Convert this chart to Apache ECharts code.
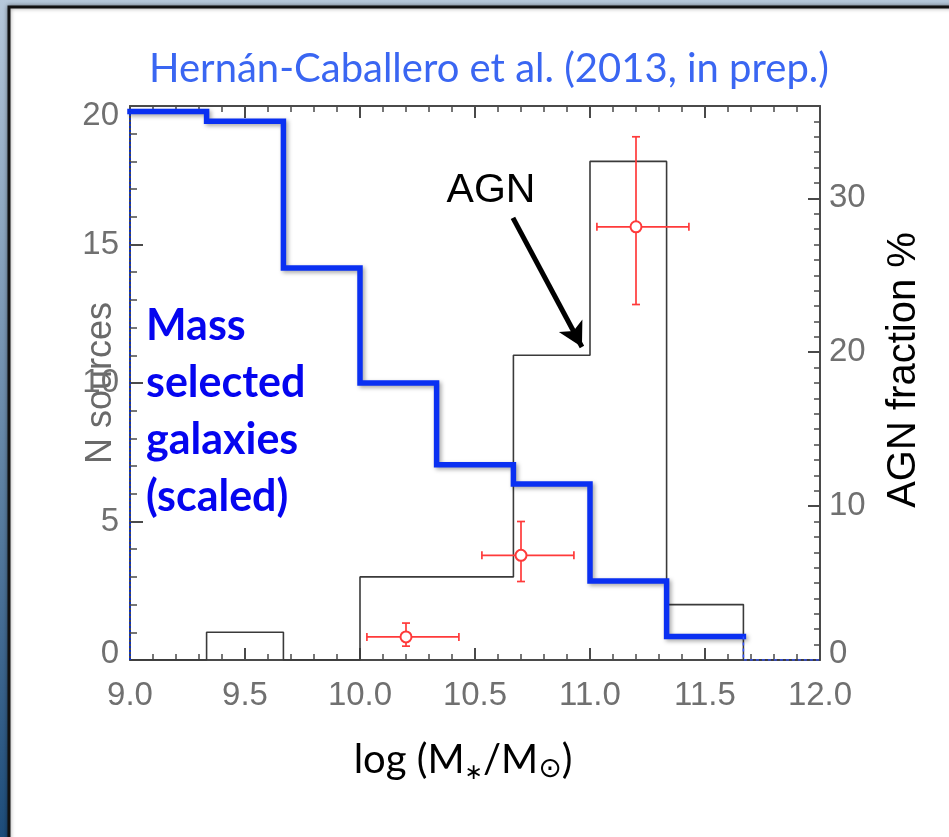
<!DOCTYPE html>
<html>
<head>
<meta charset="utf-8">
<script src="https://cdn.jsdelivr.net/npm/echarts@6/dist/echarts.min.js"></script>
<style>
html,body{margin:0;padding:0;background:#fff;}
#chart{width:949px;height:837px;}
</style>
</head>
<body>
<div id="chart"></div>
<script>
// ---- data ----
var binEdges = [9.0, 9.333, 9.667, 10.0, 10.333, 10.667, 11.0, 11.333, 11.667, 12.0];
var agnCounts = [0, 1, 0, 3, 3, 11, 18, 2, 0];
var massScaled = [19.8, 19.45, 14.15, 10.0, 7.05, 6.35, 2.85, 0.85, 0];

var fracX   = [10.2, 10.7, 11.2];
var fracY   = [1.5, 6.8, 28.15];
var fracXLo = [10.03, 10.53, 11.03];
var fracXHi = [10.43, 10.93, 11.43];
var fracYLo = [0.9, 5.1, 23.1];
var fracYHi = [2.4, 9.0, 34.0];

var xTicks = [9.0, 9.5, 10.0, 10.5, 11.0, 11.5, 12.0];
var leftTicks = [0, 5, 10, 15, 20];
var rightTicks = [0, 10, 20, 30];

// ---- build step outlines from bins ----
function stepPath(edges, vals, from, to) {
  var pts = [];
  for (var i = from; i < to; i++) {
    pts.push([edges[i], vals[i]]);
    pts.push([edges[i + 1], vals[i]]);
  }
  return pts;
}
var agnPath = [[binEdges[0], 0]].concat(stepPath(binEdges, agnCounts, 0, agnCounts.length));
agnPath.push([binEdges[binEdges.length - 1], 0]);
var massPath = stepPath(binEdges, massScaled, 0, 8);
var massLeft = [[binEdges[0], 0], [binEdges[0], massScaled[0]]];
var massRight = [[binEdges[8], massScaled[7]], [binEdges[8], massScaled[8]], [binEdges[9], massScaled[8]]];

var errData = fracX.map(function (x, i) {
  return [x, fracY[i], fracXLo[i], fracXHi[i], fracYLo[i], fracYHi[i]];
});
var ptData = fracX.map(function (x, i) { return [x, fracY[i]]; });

var chart = echarts.init(document.getElementById('chart'));
var tickFont = 'Liberation Sans, Arial, sans-serif';
var labelGray = '#707070';
var axisCol = '#4a4a4a';
var errCol = '#ff3a3a';

var option = {
  animation: false,
  backgroundColor: {
    type: 'linear', x: 0, y: 0, x2: 0, y2: 1,
    colorStops: [{offset: 0, color: '#b6c8da'}, {offset: 1, color: '#1d4c7a'}]
  },
  title: {
    text: 'Hernán-Caballero et al. (2013, in prep.)',
    left: 484, top: 44, textAlign: 'center',
    textStyle: {color: '#3a66f2', fontFamily: 'Lato, sans-serif', fontWeight: 'normal', fontSize: 40}
  },
  graphic: [
    {type: 'rect', z: -10, shape: {x: 9, y: 7, width: 980, height: 880},
     style: {fill: '#ffffff', stroke: '#111111', lineWidth: 3, shadowBlur: 4, shadowColor: 'rgba(0,0,0,0.4)'}},
    {type: 'text', left: 146, top: 298, z: 10,
     style: {text: 'Mass\nselected\ngalaxies\n(scaled)', fill: '#0505ef',
             font: 'bold 43px Lato, sans-serif', lineHeight: 57}},
    {type: 'text', x: 491, y: 191, z: 10,
     style: {text: 'AGN', fill: '#000', font: '41px "Liberation Sans", Arial, sans-serif',
             textAlign: 'center', textVerticalAlign: 'middle'}}
  ],
  grid: {left: 130, right: 129, top: 106, bottom: 177, containLabel: false},
  xAxis: [
    {
      type: 'value', min: 9, max: 12, interval: 0.5, position: 'bottom',
      axisLine: {show: true, onZero: false, lineStyle: {color: axisCol, width: 2}},
      axisTick: {show: true, inside: true, length: 12, lineStyle: {color: axisCol, width: 2}},
      minorTick: {show: true, splitNumber: 5, length: 6, lineStyle: {color: axisCol, width: 1.5}},
      splitLine: {show: false},
      axisLabel: {color: labelGray, fontSize: 33, fontFamily: tickFont, margin: 19,
                  formatter: function (v) { return xTicks.indexOf(v) >= 0 ? v.toFixed(1) : ''; }},
      name: '{a|log (M}{s|∗}{a|/M}{o|⊙}{a|)}',
      nameLocation: 'middle', nameGap: 76,
      nameTextStyle: {
        padding: [0, 24, 0, 0],
        rich: {
          a: {fontFamily: 'Lato, sans-serif', fontSize: 40, color: '#000', lineHeight: 48},
          s: {fontFamily: 'DejaVu Sans, sans-serif', fontSize: 22, color: '#000', verticalAlign: 'bottom', lineHeight: 32},
          o: {fontFamily: 'DejaVu Sans, sans-serif', fontSize: 28, color: '#000', verticalAlign: 'bottom', lineHeight: 32}
        }
      }
    },
    {
      type: 'value', min: 9, max: 12, interval: 0.5, position: 'top',
      axisLine: {show: true, onZero: false, lineStyle: {color: axisCol, width: 2}},
      axisTick: {show: true, inside: true, length: 12, lineStyle: {color: axisCol, width: 2}},
      minorTick: {show: true, splitNumber: 5, length: 6, lineStyle: {color: axisCol, width: 1.5}},
      splitLine: {show: false},
      axisLabel: {show: false}
    }
  ],
  yAxis: [
    {
      type: 'value', min: 0, max: 20, interval: 5, position: 'left',
      axisLine: {show: true, onZero: false, lineStyle: {color: axisCol, width: 2}},
      axisTick: {show: true, inside: true, length: 13, lineStyle: {color: axisCol, width: 2}},
      minorTick: {show: true, splitNumber: 5, length: 7, lineStyle: {color: axisCol, width: 1.5}},
      splitLine: {show: false},
      axisLabel: {color: labelGray, fontSize: 33, fontFamily: tickFont, margin: 11,
                  formatter: function (v) {
                    if (leftTicks.indexOf(v) < 0) return '';
                    if (v === 20) return '{top|20}';
                    if (v === 0) return '{bot|0}';
                    return String(v);
                  },
                  rich: {
                    top: {color: labelGray, fontSize: 33, fontFamily: tickFont, padding: [20, 0, 0, 0]},
                    bot: {color: labelGray, fontSize: 33, fontFamily: tickFont, padding: [0, 0, 12, 0]}
                  }},
      name: 'N sources', nameLocation: 'middle', nameRotate: 90, nameGap: 11,
      nameMoveOverlap: false,
      nameTextStyle: {color: '#6a6a6a', fontSize: 36, fontFamily: tickFont}
    },
    {
      type: 'value', min: 0, max: 36, interval: 10, position: 'right',
      axisLine: {show: true, onZero: false, lineStyle: {color: axisCol, width: 2}},
      axisTick: {show: true, inside: true, length: 12, lineStyle: {color: axisCol, width: 2}},
      splitLine: {show: false},
      axisLabel: {color: labelGray, fontSize: 33, fontFamily: tickFont, margin: 9, showMaxLabel: false,
                  formatter: function (v) {
                    if (rightTicks.indexOf(v) < 0) return '';
                    if (v === 0) return '{bot|0}';
                    return String(v);
                  },
                  rich: {
                    bot: {color: labelGray, fontSize: 33, fontFamily: tickFont, padding: [0, 0, 12, 0]}
                  }},
      name: 'AGN fraction %', nameLocation: 'middle', nameRotate: 90, nameGap: 64,
      nameMoveOverlap: false,
      nameTextStyle: {color: '#000', fontSize: 40, fontFamily: tickFont, padding: [0, 0, 0, 26]}
    },
    {
      type: 'value', min: 0, max: 36, interval: 1, position: 'right',
      axisLine: {show: false},
      axisTick: {show: true, inside: true, length: 6, lineStyle: {color: axisCol, width: 1.5}},
      splitLine: {show: false},
      axisLabel: {show: false}
    }
  ],
  series: [
    {
      name: 'AGN', type: 'line', xAxisIndex: 0, yAxisIndex: 0, data: agnPath,
      showSymbol: false, symbol: 'none', z: 3,
      lineStyle: {color: '#3a3a3a', width: 1.6},
      markLine: {
        silent: true, animation: false,
        symbol: ['none', 'arrow'], symbolSize: [20, 24],
        label: {show: false},
        lineStyle: {color: '#000', width: 5, type: 'solid'},
        data: [[{coord: [10.665, 15.96]}, {coord: [10.965, 11.3]}]]
      }
    },
    {
      name: 'Mass selected', type: 'line', xAxisIndex: 0, yAxisIndex: 0, data: massPath,
      showSymbol: false, symbol: 'none', z: 4,
      lineStyle: {color: '#0a30f2', width: 5.5, cap: 'square', join: 'miter',
                  shadowColor: 'rgba(0,0,0,0.35)', shadowBlur: 4, shadowOffsetX: 2, shadowOffsetY: 2}
    },
    {
      name: 'Mass left', type: 'line', xAxisIndex: 0, yAxisIndex: 0, data: massLeft,
      showSymbol: false, symbol: 'none', z: 4,
      lineStyle: {color: '#1030c0', width: 2, type: [2, 2]}
    },
    {
      name: 'Mass right', type: 'line', xAxisIndex: 0, yAxisIndex: 0, data: massRight,
      showSymbol: false, symbol: 'none', z: 4,
      lineStyle: {color: '#3050ff', width: 1.5, type: [3, 3]}
    },
    {
      name: 'AGN fraction err', type: 'custom', xAxisIndex: 0, yAxisIndex: 1, data: errData, z: 5,
      renderItem: function (params, api) {
        var c = api.coord([api.value(0), api.value(1)]);
        var xl = api.coord([api.value(2), api.value(1)]);
        var xh = api.coord([api.value(3), api.value(1)]);
        var yl = api.coord([api.value(0), api.value(4)]);
        var yh = api.coord([api.value(0), api.value(5)]);
        var cap = 4;
        var st = {stroke: errCol, lineWidth: 1.7};
        return {
          type: 'group',
          children: [
            {type: 'line', shape: {x1: xl[0], y1: c[1], x2: xh[0], y2: c[1]}, style: st},
            {type: 'line', shape: {x1: xl[0], y1: c[1] - cap, x2: xl[0], y2: c[1] + cap}, style: st},
            {type: 'line', shape: {x1: xh[0], y1: c[1] - cap, x2: xh[0], y2: c[1] + cap}, style: st},
            {type: 'line', shape: {x1: c[0], y1: yl[1], x2: c[0], y2: yh[1]}, style: st},
            {type: 'line', shape: {x1: c[0] - cap, y1: yl[1], x2: c[0] + cap, y2: yl[1]}, style: st},
            {type: 'line', shape: {x1: c[0] - cap, y1: yh[1], x2: c[0] + cap, y2: yh[1]}, style: st}
          ]
        };
      }
    },
    {
      name: 'AGN fraction', type: 'scatter', xAxisIndex: 0, yAxisIndex: 1, data: ptData, z: 6,
      symbol: 'emptyCircle', symbolSize: 11,
      itemStyle: {color: errCol, borderColor: errCol, borderWidth: 1.7, opacity: 1}
    }
  ]
};
chart.setOption(option);
</script>
</body>
</html>
